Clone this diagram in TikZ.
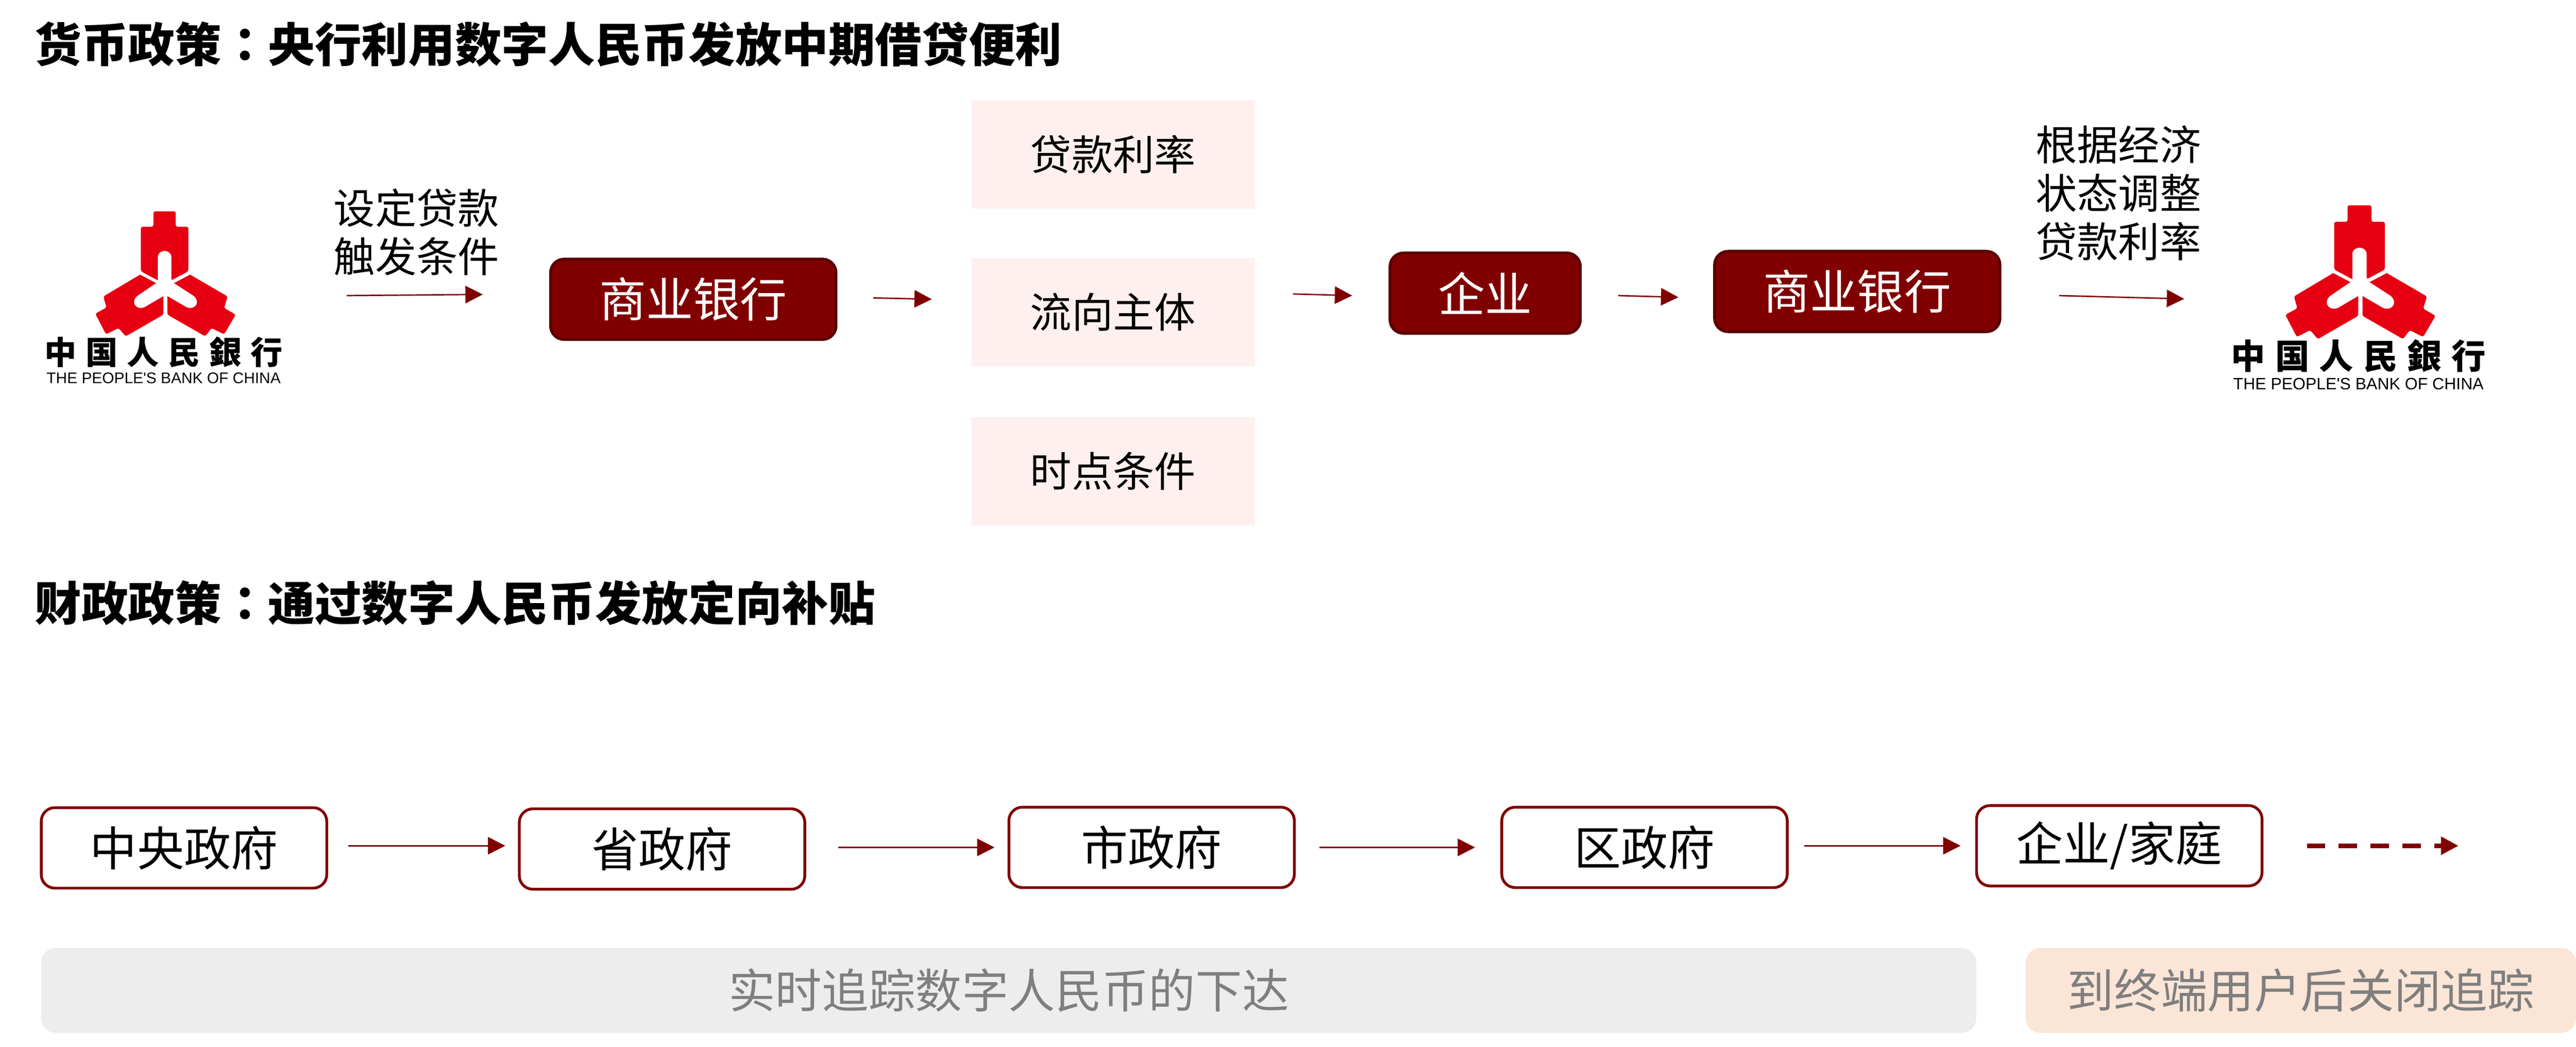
\documentclass[tikz,border=0pt]{standalone}
\usepackage{fontspec}
\setmainfont{Noto Sans CJK SC}
\newfontfamily\cjktc{Noto Sans CJK TC}
\newfontfamily\latinf{Liberation Sans}
\usetikzlibrary{arrows.meta,calc}
\definecolor{deepred}{HTML}{800000}
\definecolor{edgered}{HTML}{5A0000}
\definecolor{pinkbg}{HTML}{FFF0F0}
\definecolor{graybg}{HTML}{EDEDED}
\definecolor{peachbg}{HTML}{FBE5D6}
\definecolor{graytext}{HTML}{7F7F7F}
\definecolor{logored}{HTML}{E60012}
\newcommand{\fsz}[1]{\fontsize{#1pt}{#1pt}\selectfont}
\newcommand{\pboclogo}[4]{%
\begin{scope}[shift={(#1,#2)},xscale=.1089*#3,yscale=.0817*#3]
 \pgfmathsetmacro\lsz{12.5*#3}
 \pgfmathsetmacro\csz{26*#3}
 \pgfmathsetmacro\lpitch{33.4*#3}
 \fill[logored,rounded corners=1.5pt] (740,165) -- (865,165) -- (865,280) -- (935,280) -- (935,612) -- (840,680) [sharp corners] -- (840,505) .. controls (840,445) and (765,445) .. (765,505) -- (765,680) [rounded corners=1.5pt] -- (670,612) -- (670,280) -- (740,280) -- cycle;
 \fill[logored,rounded corners=1.5pt] (665,637) -- (460,800) -- (478,882) -- (415,928) -- (475,1082) -- (545,1035) -- (585,1097) -- (796,935) [sharp corners] -- (796,797) -- (690,880) .. controls (640,905) and (610,840) .. (650,795) -- (755,700) -- cycle;
 \fill[logored,rounded corners=1.5pt] (945,637) -- (1155,800) -- (1135,885) -- (1200,935) -- (1135,1082) -- (1065,1035) -- (1030,1097) -- (818,935) [sharp corners] -- (818,797) -- (925,880) .. controls (975,905) and (1005,840) .. (965,795) -- (855,700) -- cycle;
 \node[inner sep=0pt,font=\fsz{\csz}\bfseries] (#4cn) at (797,1215) {\makebox[\lpitch pt]{中}\makebox[\lpitch pt]{国}\makebox[\lpitch pt]{人}\makebox[\lpitch pt]{民}\makebox[\lpitch pt]{銀}\makebox[\lpitch pt]{行}};
 \node[inner sep=0pt,font=\latinf\fsz{\lsz}] (#4en) at (797,1410) {THE PEOPLE'S BANK OF CHINA};
\end{scope}}
\tikzset{
 title/.style={anchor=west,inner sep=0pt,font=\fsz{37.9}\bfseries},
 darkbox/.style={draw=edgered,fill=deepred,text=white,line width=2.27pt,rounded corners=11pt,outer sep=0pt,inner sep=0pt,minimum height=65.3pt,font=\fsz{38.1}},
 pinkbox/.style={fill=pinkbg,inner sep=0pt,outer sep=0pt,minimum width=230.7pt,minimum height=88pt,font=\fsz{33.6}},
 whitebox/.style={draw=deepred,fill=white,line width=2.27pt,rounded corners=11pt,outer sep=0pt,inner sep=0pt,minimum width=231.7pt,minimum height=65.3pt,font=\fsz{38.1}},
 band/.style={rounded corners=12pt,inner sep=0pt,outer sep=0pt,minimum height=69pt,text=graytext,font=\fsz{37.9}},
 lab/.style={inner sep=0pt,align=center,font=\fontsize{33.6pt}{39.3pt}\selectfont},
 arr/.style={deepred,line width=1.13pt,-{Triangle[length=14.1pt,width=14.1pt]}},
 dasharr/.style={deepred,line width=3.87pt,dash pattern=on 14.8pt off 11.1pt,-{Triangle[length=14.2pt,width=14pt]}},
}
\begin{document}
\begin{tikzpicture}[x=1.33333pt,y=-1.33333pt]
\useasboundingbox (0,0) rectangle (1568,637.4);
\node[title] (t1) at (21,27) {货币政策{\cjktc ：}央行利用数字人民币发放中期借贷便利};
\node[title] (t2) at (21,367) {财政政策{\cjktc ：}通过数字人民币发放定向补贴};
\pboclogo{12.8}{115.2}{1}{logoA}
\pboclogo{1342.7}{110.6}{1.07}{logoB}
\coordinate (logoAout) at (211,180);
\coordinate (logoBin) at (1329.5,182);
\node[lab] (lab1) at (253.5,141.5) {设定贷款\\触发条件};
\node[lab] (lab2) at (1289.5,117.5) {根据经济\\状态调整\\贷款利率};
\node[darkbox,minimum width=231.7pt] (bankA) at (422,182.25) {商业银行};
\node[pinkbox] (rate) at (677.5,94) {贷款利率};
\node[pinkbox] (flow) at (677.5,190) {流向主体};
\node[pinkbox] (time) at (677.5,287) {时点条件};
\node[darkbox,minimum width=154.5pt] (entA) at (904,178.5) {企业};
\node[darkbox,minimum width=231.7pt] (bankB) at (1130.5,177.5) {商业银行};
\node[whitebox] (gov1) at (112,516.3) {中央政府};
\node[whitebox] (gov2) at (403,517) {省政府};
\node[whitebox] (gov3) at (701,516) {市政府};
\node[whitebox] (gov4) at (1001,516) {区政府};
\node[whitebox] (gov5) at (1290,515) {企业/家庭};
\coordinate (dashend) at (1496.5,515);
\node[band,fill=graybg,minimum width=1570.5pt] (bandA) at (614,603.1) {实时追踪数字人民币的下达};
\node[band,fill=peachbg,minimum width=446.7pt] (bandB) at (1400.5,603.1) {到终端用户后关闭追踪};
\draw[arr] (logoAout) -- ($(bankA.west)+(-41.25,-2.95)$);
\draw[arr] ($(bankA.east)+(22.65,-.85)$) -- ($(flow.west)+(-23.8,-7.8)$);
\draw[arr] ($(flow.east)+(23,-11)$) -- ($(entA.west)+(-23,1.5)$);
\draw[arr] ($(entA.east)+(23,1.5)$) -- ($(bankB.west)+(-22,3.5)$);
\draw[arr] ($(bankB.east)+(36,2.5)$) -- (logoBin);
\draw[arr] ($(gov1.east)+(13.25,-1.3)$) -- ($(gov2.west)+(-8.55,-2)$);
\draw[arr] ($(gov2.east)+(20.25,-1)$) -- ($(gov3.west)+(-8.75,0)$);
\draw[arr] ($(gov3.east)+(15.25,0)$) -- ($(gov4.west)+(-16.25,0)$);
\draw[arr] ($(gov4.east)+(10.25,-1)$) -- ($(gov5.west)+(-9.75,0)$);
\draw[dasharr] ($(gov5.east)+(27.25,0)$) -- (dashend);
\end{tikzpicture}
\end{document}
